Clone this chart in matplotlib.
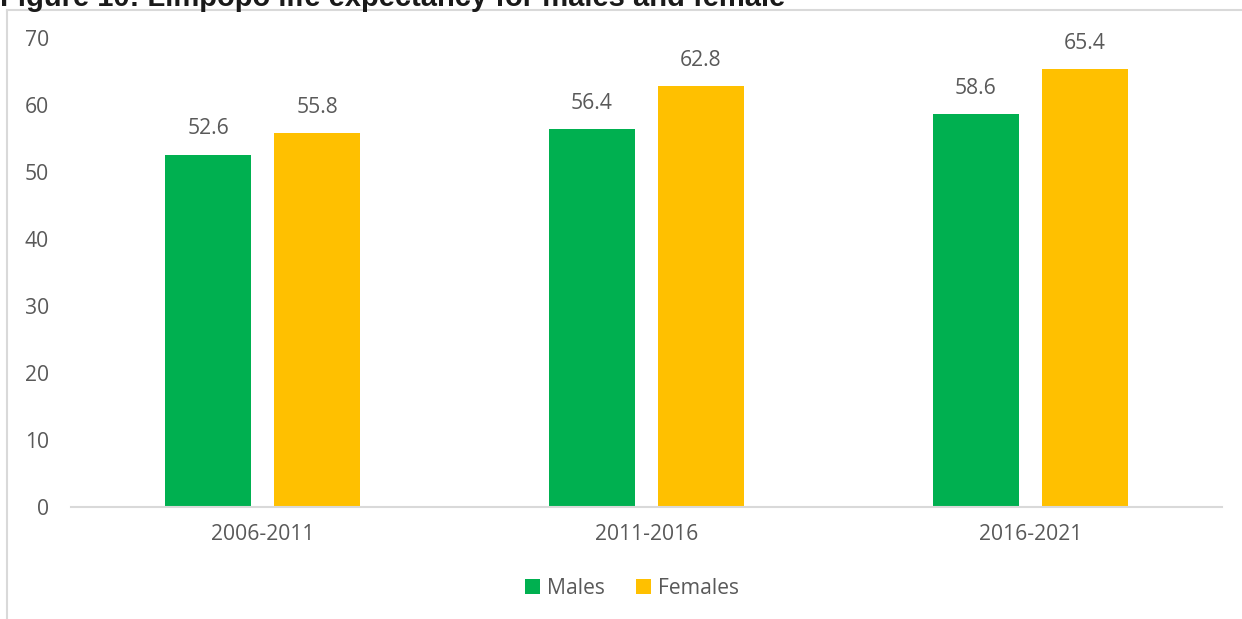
import numpy as np
import matplotlib.pyplot as plt
from matplotlib.lines import Line2D

periods = ['2006-2011', '2011-2016', '2016-2021']
males = [52.6, 56.4, 58.6]
females = [55.8, 62.8, 65.4]

green = '#00b050'
gold = '#ffc000'
grey_txt = '#595959'

plt.rcParams['font.family'] = ['Open Sans', 'DejaVu Sans']

fig = plt.figure(figsize=(12.42, 6.19), dpi=100)

# chart border (only left and top visible)
fig.add_artist(Line2D([7/1242, 7/1242], [0, 1 - 10/619], color='#d9d9d9', lw=1.5))
fig.add_artist(Line2D([7/1242, 1], [1 - 10/619, 1 - 10/619], color='#d9d9d9', lw=1.5))

fig.text(0.0, 1 - 6/619, 'Figure 10: Limpopo life expectancy for males and female',
         family='Liberation Sans', fontweight='bold', fontsize=21, color='#1a1a1a',
         ha='left', va='baseline')

ax = fig.add_axes([71/1242, 1 - 507/619, (1222 - 71)/1242, (507 - 38)/619])

x = np.arange(len(periods))
w = 0.224
b1 = ax.bar(x - 0.142, males, w, color=green, label='Males')
b2 = ax.bar(x + 0.142, females, w, color=gold, label='Females')
ax.bar_label(b1, fmt='%.1f', padding=11, fontsize=15.2, color=grey_txt)
ax.bar_label(b2, fmt='%.1f', padding=11, fontsize=15.2, color=grey_txt)

ax.set_xlim(-0.5, 2.5)
ax.set_ylim(0, 70)
ax.set_yticks(range(0, 71, 10))
ax.set_xticks(x)
ax.set_xticklabels(periods)
ax.tick_params(axis='both', length=0, labelsize=15.2, labelcolor=grey_txt)
ax.tick_params(axis='x', pad=12)
ax.tick_params(axis='y', pad=16)
for s in ['top', 'right', 'left']:
    ax.spines[s].set_visible(False)
ax.spines['bottom'].set_color('#d9d9d9')
ax.spines['bottom'].set_linewidth(1.5)

leg = fig.legend(loc='center', bbox_to_anchor=(632/1242, 1 - 588/619), ncol=2,
                 frameon=False, fontsize=15.2, handlelength=0.72, handleheight=0.72,
                 handletextpad=0.3, columnspacing=1.5)
for t in leg.get_texts():
    t.set_color(grey_txt)

plt.savefig('out.png', dpi=100)
